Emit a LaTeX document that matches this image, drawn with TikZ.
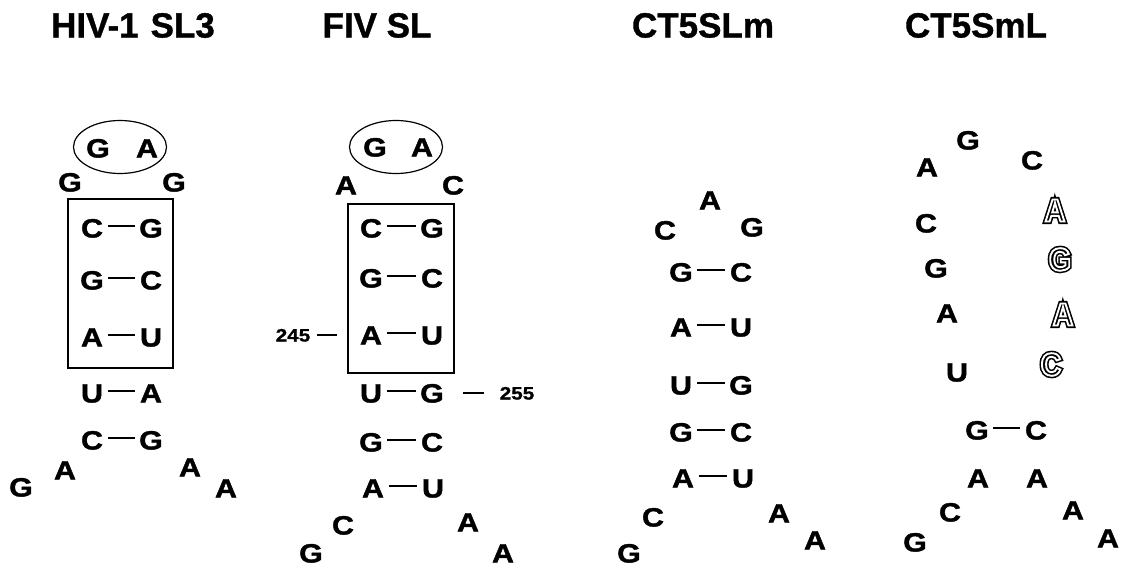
\documentclass[tikz,border=0pt]{standalone}
\usepackage{fontspec}
\setmainfont{Liberation Sans}
\newfontfamily\nucfont[FakeStretch=1.15,FakeBold=1.5]{Liberation Sans Bold}
\newfontfamily\numfont[FakeStretch=1.15,FakeBold=1]{Liberation Sans Bold}
\newfontfamily\titfont[FakeBold=1]{Liberation Sans Bold}
\newfontfamily\holfont[FakeStretch=0.88]{Liberation Sans Bold}
\usetikzlibrary{shapes.geometric}
\newcommand\strokeA[1]{\special{pdf:literal direct 1 Tr 5 w}#1\special{pdf:literal direct 0 Tr}}
\newcommand\strokeB[1]{\special{pdf:literal direct 1 Tr 1.9 w}#1\special{pdf:literal direct 0 Tr}}
\tikzset{
  x=1pt, y=-1pt,
  nt/.style={font=\nucfont\fontsize{26.5}{26.5}\selectfont, inner sep=0pt, text height=19pt, text depth=0pt},
  holt/.style={font=\holfont\fontsize{32}{32}\selectfont, inner sep=0pt, text height=23pt, text depth=0pt},
  title/.style={font=\titfont\fontsize{35}{35}\selectfont, inner sep=0pt, text height=25pt, text depth=0pt},
  numlbl/.style={font=\numfont\fontsize{18}{18}\selectfont, inner sep=0pt, text height=13pt, text depth=0pt},
  bond/.style={line width=2.6pt, shorten >=16pt, shorten <=16pt},
  tick/.style={line width=1.5pt},
  loopbox/.style={draw, line width=1.5pt},
  loopell/.style={draw, ellipse, line width=1.2pt, minimum width=93pt, minimum height=53pt, inner sep=0pt},
}
\newcommand\hollow[3]{%
  \node[holt] (#1) at (#2) {\strokeA{#3}};
  \node[holt, text=white] at (#2) {\strokeB{#3}};
}
\begin{document}
\begin{tikzpicture}
\useasboundingbox (0,0) rectangle (1129,568);
% titles
\node[title] (t1) at (133,25) {HIV-1\hspace{12pt}SL3};
\node[title] (t2) at (377,25) {FIV SL};
\node[title] (t3) at (703,25) {CT5SLm};
\node[title] (t4) at (976,25) {CT5SmL};

% ---------- HIV-1 SL3 ----------
\node[loopell] (e1) at (120,147) {};
\node[nt] (a1) at (98,148) {G};
\node[nt] (a2) at (147,148) {A};
\node[nt] (a3) at (70,182) {G};
\node[nt] (a4) at (174,182) {G};
\draw[loopbox] (68,199) rectangle (173,368);
\node[nt] (a5l) at (92,228) {C}; \node[nt] (a5r) at (151,228) {G};
\node[nt] (a6l) at (92,280) {G}; \node[nt] (a6r) at (151,280) {C};
\node[nt] (a7l) at (92,337) {A}; \node[nt] (a7r) at (151,337) {U};
\node[nt] (a8l) at (92,393) {U}; \node[nt] (a8r) at (151,393) {A};
\node[nt] (a9l) at (92,440) {C}; \node[nt] (a9r) at (151,440) {G};
\foreach \p in {5,...,9} \draw[bond] ([yshift=2pt]a\p l.center) -- ([yshift=2pt]a\p r.center);
\node[nt] (a10) at (65,470) {A};
\node[nt] (a11) at (21,487) {G};
\node[nt] (a12) at (190,467) {A};
\node[nt] (a13) at (226,488) {A};

% ---------- FIV SL ----------
\node[loopell] (e2) at (396,147) {};
\node[nt] (b1) at (375,147) {G};
\node[nt] (b2) at (422,147) {A};
\node[nt] (b3) at (346,185) {A};
\node[nt] (b4) at (453,185) {C};
\draw[loopbox] (348,204) rectangle (454,373);
\node[nt] (b5l) at (371,228) {C}; \node[nt] (b5r) at (432,228) {G};
\node[nt] (b6l) at (371,278) {G}; \node[nt] (b6r) at (432,278) {C};
\node[nt] (b7l) at (371,335) {A}; \node[nt] (b7r) at (432,335) {U};
\node[nt] (b8l) at (371,393) {U}; \node[nt] (b8r) at (432,393) {G};
\node[nt] (b9l) at (371,442) {G}; \node[nt] (b9r) at (432,442) {C};
\node[nt] (b10l) at (373,488) {A}; \node[nt] (b10r) at (433,488) {U};
\foreach \p in {5,...,10} \draw[bond] ([yshift=2pt]b\p l.center) -- ([yshift=2pt]b\p r.center);
\node[nt] (b11) at (343,525) {C};
\node[nt] (b12) at (311,553) {G};
\node[nt] (b13) at (468,522) {A};
\node[nt] (b14) at (503,553) {A};
\node[numlbl] (n245) at (293,335) {245};
\coordinate (k1a) at (317,335); \coordinate (k1b) at (337,335);
\draw[tick] (k1a) -- (k1b);
\node[numlbl] (n255) at (517,393) {255};
\coordinate (k2a) at (463,393); \coordinate (k2b) at (484,393);
\draw[tick] (k2a) -- (k2b);

% ---------- CT5SLm ----------
\node[nt] (c1) at (710,200) {A};
\node[nt] (c2) at (665,230) {C};
\node[nt] (c3) at (752,227) {G};
\node[nt] (c4l) at (681,272) {G}; \node[nt] (c4r) at (741,272) {C};
\node[nt] (c5l) at (681,327) {A}; \node[nt] (c5r) at (741,327) {U};
\node[nt] (c6l) at (681,385) {U}; \node[nt] (c6r) at (741,385) {G};
\node[nt] (c7l) at (681,432) {G}; \node[nt] (c7r) at (741,432) {C};
\node[nt] (c8l) at (683,478) {A}; \node[nt] (c8r) at (743,478) {U};
\foreach \p in {4,...,8} \draw[bond] ([yshift=2pt]c\p l.center) -- ([yshift=2pt]c\p r.center);
\node[nt] (c9) at (653,517) {C};
\node[nt] (c10) at (629,553) {G};
\node[nt] (c11) at (779,513) {A};
\node[nt] (c12) at (815,540) {A};

% ---------- CT5SmL ----------
\node[nt] (d1) at (968,140) {G};
\node[nt] (d2) at (927,167) {A};
\node[nt] (d3) at (1032,160) {C};
\node[nt] (d4) at (926,223) {C};
\node[nt] (d5) at (936,268) {G};
\node[nt] (d6) at (947,313) {A};
\node[nt] (d7) at (957,372) {U};
\hollow{d8}{1055,210}{A}
\hollow{d9}{1060,259}{G}
\hollow{d10}{1063,314}{A}
\hollow{d11}{1051,364}{C}
\node[nt] (d12l) at (977,430) {G}; \node[nt] (d12r) at (1036,430) {C};
\draw[bond] ([yshift=2pt]d12l.center) -- ([yshift=2pt]d12r.center);
\node[nt] (d13) at (978,478) {A};
\node[nt] (d14) at (1037,478) {A};
\node[nt] (d15) at (950,512) {C};
\node[nt] (d16) at (915,542) {G};
\node[nt] (d17) at (1073,510) {A};
\node[nt] (d18) at (1108,538) {A};
\end{tikzpicture}
\end{document}
